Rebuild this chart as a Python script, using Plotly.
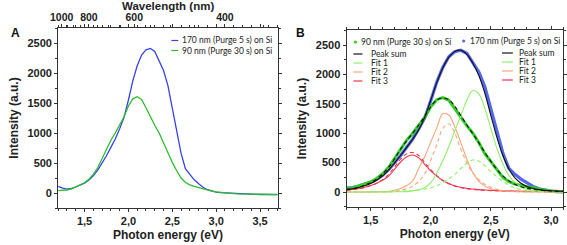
import plotly.graph_objects as go

# ---------------- data ----------------
energy = [1.20, 1.25, 1.30, 1.35, 1.40, 1.45, 1.50, 1.55, 1.60, 1.65, 1.70, 1.75, 1.80, 1.85, 1.90,
          1.95, 2.00, 2.05, 2.10, 2.15, 2.20, 2.25, 2.30, 2.35, 2.40, 2.45, 2.50, 2.55, 2.60, 2.65,
          2.70, 2.75, 2.80, 2.85, 2.90, 2.95, 3.00, 3.05, 3.10, 3.15, 3.20, 3.25, 3.30, 3.35, 3.40,
          3.45, 3.50, 3.55, 3.60, 3.65, 3.70]

pl_170nm = [110, 80, 65, 75, 100, 130, 165, 215, 285, 380, 490, 620, 760, 900, 1070,
            1260, 1550, 1870, 2120, 2300, 2385, 2410, 2360, 2200, 2040, 1790, 1400, 1000, 660, 400,
            300, 220, 155, 95, 55, 30, 15, 5, 0, -5, -10, -15, -18, -20, -22,
            -24, -25, -26, -27, -28, -28]

pl_90nm = [40, 40, 50, 70, 100, 130, 170, 230, 310, 420, 570, 740, 880, 1000, 1130,
           1270, 1450, 1570, 1605, 1560, 1420, 1270, 1130, 1000, 840, 650, 510, 370, 250, 175,
           135, 110, 90, 65, 45, 30, 18, 8, 0, -5, -10, -13, -15, -17, -19,
           -20, -21, -22, -23, -24, -25]

energy_fit = [1.30, 1.35, 1.40, 1.45, 1.50, 1.55, 1.60, 1.65, 1.70, 1.75, 1.80, 1.85, 1.90,
              1.95, 2.00, 2.05, 2.10, 2.15, 2.20, 2.25, 2.30, 2.35, 2.40, 2.45, 2.50, 2.55,
              2.60, 2.65, 2.70, 2.75, 2.80, 2.85, 2.90, 2.95, 3.00, 3.05, 3.10]

sum_170 = [45, 55, 75, 105, 145, 200, 275, 375, 495, 625, 760, 900, 1060,
           1270, 1560, 1860, 2110, 2290, 2390, 2410, 2340, 2190, 1980, 1680, 1300, 930,
           620, 390, 240, 150, 95, 60, 40, 28, 20, 15, 12]
fit1_170 = [0, 0, 0, 0, 0, 1, 1, 2, 3, 4, 6, 20, 40,
            75, 160, 320, 530, 770, 1040, 1300, 1560, 1725, 1670, 1420, 1080, 740,
            480, 280, 160, 85, 45, 25, 15, 9, 5, 3, 2]
fit2_170 = [0, 0, 1, 1, 2, 3, 5, 10, 30, 60, 110, 190, 400,
            600, 850, 1090, 1330, 1310, 1110, 840, 560, 330, 180, 100, 55, 30,
            16, 9, 5, 3, 2, 1, 1, 0, 0, 0, 0]
fit3_170 = [35, 45, 60, 80, 110, 150, 200, 270, 390, 510, 600, 630, 580,
            470, 360, 270, 195, 145, 105, 80, 62, 50, 40, 33, 28, 24,
            20, 17, 15, 13, 12, 10, 9, 8, 8, 7, 6]

sum_90 = [40, 55, 80, 115, 160, 220, 305, 420, 565, 730, 870, 1000, 1135,
          1290, 1450, 1565, 1600, 1570, 1460, 1300, 1140, 990, 835, 670, 520, 385,
          275, 190, 130, 90, 62, 45, 32, 24, 18, 13, 10]
fit1_90 = [0, 0, 0, 1, 1, 2, 3, 5, 8, 12, 18, 25, 35,
           50, 70, 105, 160, 225, 300, 400, 490, 545, 525, 445, 350, 260,
           185, 115, 70, 40, 22, 13, 8, 5, 3, 2, 1]
fit2_90 = [0, 0, 0, 1, 1, 2, 4, 8, 15, 30, 55, 100, 180,
           310, 540, 800, 1080, 1160, 1000, 730, 500, 320, 210, 130, 80, 45,
           25, 14, 8, 5, 3, 2, 1, 1, 0, 0, 0]
fit3_90 = [30, 40, 55, 75, 105, 150, 210, 300, 430, 560, 650, 672, 620,
           500, 380, 280, 195, 140, 100, 72, 55, 44, 35, 29, 24, 20,
           17, 15, 13, 11, 10, 9, 8, 7, 6, 5, 5]

wavelength_ticks = [1000, 800, 600, 400]
wavelength_minor = [1000, 950, 900, 850, 800, 750, 700, 650, 600, 550, 500, 450, 400, 350]

label_170 = "170 nm (Purge 5 s) on Si"
label_90 = "90 nm (Purge 30 s) on Si"

# ---------------- styles ----------------
BLUE = "#3444e6"
BLUE_B = "#5566f0"
GREEN = "#2dbd2d"
GREEN_B = "#33cc22"
FIT1 = "#8ff06a"
FIT2 = "#f5a77a"
FIT3 = "#ee3550"
AX = "#333333"
W, H = 567, 245

fig = go.Figure()

# Panel A
fig.add_trace(go.Scatter(x=energy, y=pl_170nm, mode="lines", line=dict(color=BLUE, width=1.3),
                         xaxis="x", yaxis="y", showlegend=False))
fig.add_trace(go.Scatter(x=energy, y=pl_90nm, mode="lines", line=dict(color=GREEN, width=1.3),
                         xaxis="x", yaxis="y", showlegend=False))

# Panel B
fig.add_trace(go.Scatter(x=energy, y=pl_170nm, mode="lines", line=dict(color=BLUE_B, width=3.2),
                         xaxis="x2", yaxis="y2", showlegend=False))
fig.add_trace(go.Scatter(x=energy, y=pl_90nm, mode="lines", line=dict(color=GREEN_B, width=3.0),
                         xaxis="x2", yaxis="y2", showlegend=False))
for ys, col in [(fit3_170, FIT3), (fit2_170, FIT2), (fit1_170, FIT1)]:
    fig.add_trace(go.Scatter(x=energy_fit, y=ys, mode="lines", line=dict(color=col, width=1.1, shape="spline"),
                             xaxis="x2", yaxis="y2", showlegend=False))
for ys, col in [(fit3_90, FIT3), (fit2_90, FIT2), (fit1_90, FIT1)]:
    fig.add_trace(go.Scatter(x=energy_fit, y=ys, mode="lines",
                             line=dict(color=col, width=1.1, dash="4px,3px", shape="spline"),
                             xaxis="x2", yaxis="y2", showlegend=False))
fig.add_trace(go.Scatter(x=energy_fit, y=sum_170, mode="lines", line=dict(color="#111111", width=1.1, shape="spline"),
                         xaxis="x2", yaxis="y2", showlegend=False))
fig.add_trace(go.Scatter(x=energy_fit, y=sum_90, mode="lines",
                         line=dict(color="#111111", width=1.1, dash="4px,3px", shape="spline"),
                         xaxis="x2", yaxis="y2", showlegend=False))
# dummy trace to show top axis
fig.add_trace(go.Scatter(x=[None], y=[None], xaxis="x3", yaxis="y", showlegend=False))

tickfont = dict(family="Liberation Sans", size=11, color="#222", weight="bold")
toptickfont = dict(family="Liberation Sans", size=10.5, color="#222", weight="bold")
titlefont = dict(family="Liberation Sans", size=12, color="#222", weight="bold")
toptitlefont = dict(family="Liberation Sans", size=11.5, color="#222", weight="bold")

common_x = dict(showline=True, linecolor=AX, linewidth=1, mirror="ticks", ticks="outside", ticklen=3,
                tickcolor=AX, tickfont=tickfont, showgrid=False, zeroline=False,
                tickformat=".1f",
                minor=dict(ticks="outside", ticklen=2, dtick=0.1, tickcolor=AX, showgrid=False))
common_y = dict(showline=True, linecolor=AX, linewidth=1, mirror="ticks", ticks="outside", ticklen=3,
                tickcolor=AX, tickfont=tickfont, showgrid=False, zeroline=False,
                range=[-250, 2750], tickvals=[0, 500, 1000, 1500, 2000, 2500],
                minor=dict(ticks="outside", ticklen=2, dtick=250, tick0=0, tickcolor=AX, showgrid=False))

fig.update_layout(
    width=W, height=H, margin=dict(l=0, r=0, t=0, b=0),
    paper_bgcolor="white", plot_bgcolor="white", separators=",.",
    xaxis=dict(**common_x, domain=[51 / W, 274 / W], range=[1.2, 3.7], anchor="y",
               tickvals=[1.5, 2.0, 2.5, 3.0, 3.5],
               title=dict(text="Photon energy (eV)", font=titlefont, standoff=4)),
    yaxis=dict(**common_y, domain=[1 - 208 / H, 1 - 28 / H], anchor="x",
               title=dict(text="Intensity (a.u.)", font=titlefont, standoff=6)),
    xaxis2=dict(**common_x, domain=[344 / W, 564 / W], range=[1.3, 3.1], anchor="y2",
                tickvals=[1.5, 2.0, 2.5, 3.0],
                title=dict(text="Photon energy (eV)", font=titlefont, standoff=4)),
    yaxis2=dict(**common_y, domain=[1 - 206.7 / H, 1 - 30.3 / H], anchor="x2",
                title=dict(text="Intensity (a.u.)", font=titlefont, standoff=6)),
    xaxis3=dict(overlaying="x", side="top", anchor="y", range=[1.2, 3.7], showline=False,
                ticks="outside", ticklen=3, tickcolor=AX, tickfont=toptickfont, showgrid=False, zeroline=False,
                ticklabelstandoff=-1,
                tickvals=[1239.84 / w for w in wavelength_ticks], ticktext=[str(w) for w in wavelength_ticks],
                minor=dict(ticks="outside", ticklen=2, tickvals=[1239.84 / w for w in wavelength_minor],
                           tickcolor=AX, showgrid=False)),
)

# ---------------- manual legends & panel labels ----------------
def px(x):
    return x / W

def py(y):
    return 1 - y / H

legfont = dict(family="Lato", size=8.5, color="#222")
shapes = []
annos = []

def line_sample(x0, x1, y, color, dash="solid"):
    shapes.append(dict(type="line", xref="paper", yref="paper", x0=px(x0), x1=px(x1), y0=py(y), y1=py(y),
                       line=dict(color=color, width=1.2, dash=dash)))

def dot_sample(x, y, color):
    shapes.append(dict(type="circle", xref="paper", yref="paper", x0=px(x - 1.6), x1=px(x + 1.6),
                       y0=py(y + 1.6), y1=py(y - 1.6), fillcolor=color, line=dict(width=0)))

def text(x, y, s, font=legfont, anchor="left"):
    annos.append(dict(xref="paper", yref="paper", x=px(x), y=py(y), text=s, showarrow=False,
                      xanchor=anchor, yanchor="middle", font=font))

# Top axis title of panel A
text(163, 5.5, "Wavelength (nm)", toptitlefont, "center")

# Panel A legend
line_sample(166, 173, 40.5, BLUE)
text(175, 40.5, label_170)
line_sample(166, 173, 50.5, GREEN)
text(175, 50.5, label_90)

# Panel B legend
dot_sample(353, 42, GREEN_B)
text(357, 42, label_90)
dot_sample(463, 41, BLUE_B)
text(467, 41, label_170)
for yy, col, name in [(54, "#111111", "Peak sum"), (63, FIT1, "Fit 1"), (72, FIT2, "Fit 2"), (81, FIT3, "Fit 3")]:
    line_sample(351, 362, yy, col, "dash")
    text(367, yy, name)
for yy, col, name in [(53, "#111111", "Peak sum"), (62, FIT1, "Fit 1"), (71, FIT2, "Fit 2"), (80, FIT3, "Fit 3")]:
    line_sample(502, 513, yy, col)
    text(517, yy, name)

labfont = dict(family="Liberation Sans", size=12, color="#111", weight="bold")
text(8, 33, "A", labfont, "center")
text(297, 33, "B", labfont, "center")

fig.update_layout(shapes=shapes, annotations=annos)
fig.write_html("out.html", config={"displayModeBar": False},
               post_script="document.body.style.margin='0';document.body.style.padding='0';")
